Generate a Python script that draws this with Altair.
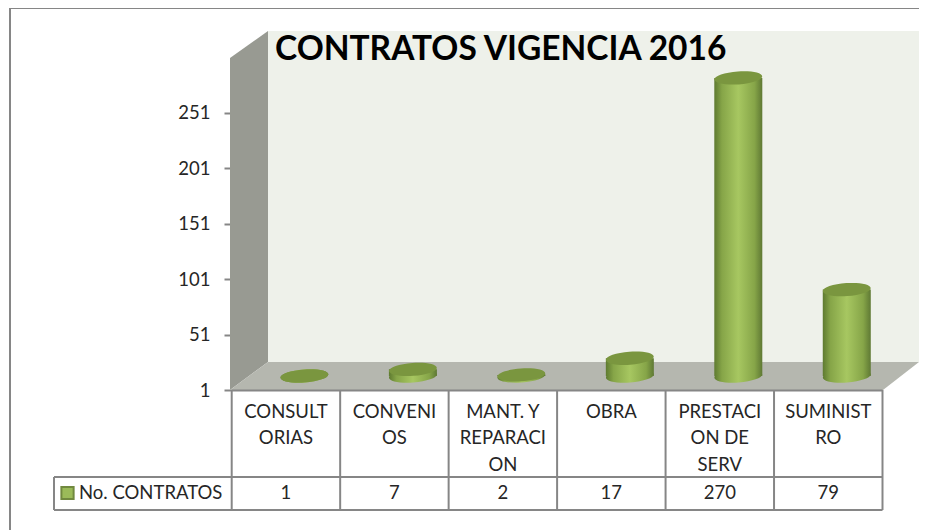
import altair as alt
import pandas as pd

categories = ["CONSULTORIAS", "CONVENIOS", "MANT. Y REPARACION", "OBRA", "PRESTACION DE SERV", "SUMINISTRO"]
wrapped = ["CONSULT\nORIAS", "CONVENI\nOS", "MANT. Y\nREPARACI\nON", "OBRA", "PRESTACI\nON DE\nSERV", "SUMINIST\nRO"]
values = [1, 7, 2, 17, 270, 79]
ticks = [1, 51, 101, 151, 201, 251]
series = "No. CONTRATOS"
title = "CONTRATOS VIGENCIA 2016"

FONT = "Lato"
INK = "#262626"
LINE = "#868686"
FS = 18.5

df = pd.DataFrame({"cat": categories, "label": wrapped, "value": values, "base": [1] * 6})
df["valtext"] = df["value"].astype(str)

AX = alt.Axis(
    values=ticks, domain=False, grid=False, title=None, offset=-223, tickSize=7,
    tickColor=LINE, tickWidth=2, labelFont=FONT, labelFontSize=FS, labelColor=INK,
    labelPadding=14,
)
xs = alt.Scale(domain=categories, range=[223.7, 874.5], paddingInner=0, paddingOuter=0)
ys = alt.Scale(domain=[1, 300], range=[382, 50.7], nice=False, zero=False)
X = alt.X("cat:N", scale=xs, axis=None, sort=None)
Y = alt.Y("value:Q", scale=ys, axis=AX)

# decorative 3-D box (not data)
side = pd.DataFrame({"px": [222, 260], "top": [50, 23], "bot": [382, 354]})
floor = pd.DataFrame({"px": [222, 260, 875, 911], "top": [382, 354, 354, 354], "bot": [382, 382, 382, 354]})


def box_area(data, color):
    return alt.Chart(data).mark_area(color=color, interpolate="linear").encode(
        x=alt.X("px:Q", scale=None, axis=None),
        y=alt.Y("top:Q", scale=None, axis=None),
        y2="bot:Q",
    )


one = pd.DataFrame({"a": [0]})


def rule(x, x2=None, y=0, y2=None, color=LINE, w=2):
    enc = {"x": alt.value(x), "y": alt.value(y)}
    if x2 is not None:
        enc["x2"] = alt.value(x2)
    if y2 is not None:
        enc["y2"] = alt.value(y2)
    return alt.Chart(one).mark_rule(color=color, strokeWidth=w).encode(**enc)


frame = rule(2, x2=911, y=0) + rule(2, y=0, y2=522)
back = alt.Chart(one).mark_rect(color="#EEF1EA").encode(
    x=alt.value(260), x2=alt.value(911), y=alt.value(23), y2=alt.value(354)
)

side_grad = alt.LinearGradient(
    gradient="linear",
    x1=0, x2=1, y1=0, y2=0,
    stops=[
        alt.GradientStop(offset=0, color="#5E7A30"),
        alt.GradientStop(offset=0.16, color="#86A548"),
        alt.GradientStop(offset=0.5, color="#A7C761"),
        alt.GradientStop(offset=0.84, color="#86A548"),
        alt.GradientStop(offset=1, color="#5F7934"),
    ],
)
ELLIPSE = "M-.9976,.0698A1,.27,-4,1,1,.9976,-.0698A1,.27,-4,1,1,-.9976,.0698Z"
DX, DY, D = 18.5, -14, 48

bars = alt.Chart(df).mark_bar(
    color=side_grad, size=D, xOffset=DX, yOffset=DY, y2Offset=DY
).encode(x=X, y=Y, y2="base:Q")
base = alt.Chart(df).mark_point(
    shape=ELLIPSE, size=D * D, filled=True, fill=side_grad, opacity=1, xOffset=DX, yOffset=DY
).encode(x=X, y=alt.Y("base:Q", scale=ys, axis=AX))
tops = alt.Chart(df).mark_point(
    shape=ELLIPSE, size=D * D, filled=True, fill="#7A963F", opacity=1, xOffset=DX, yOffset=DY
).encode(x=X, y=Y)

cat_text = alt.Chart(df).mark_text(
    font=FONT, fontSize=FS, color=INK, lineBreak="\n", lineHeight=26.5, baseline="top", align="center"
).encode(x=X, y=alt.value(394.5), text="label:N")
val_text = alt.Chart(df).mark_text(
    font=FONT, fontSize=FS, color=INK, baseline="middle", align="center"
).encode(x=X, y=alt.value(485), text="valtext:N")

col_rules = alt.Chart(df).mark_rule(color=LINE, strokeWidth=2).encode(
    x=alt.X("cat:N", scale=xs, axis=None, sort=None, bandPosition=0),
    y=alt.value(382), y2=alt.value(502),
)
table = (
    col_rules
    + rule(874.5, y=382, y2=502)
    + rule(223.7, x2=874.5, y=382.5)
    + rule(46, x2=874.5, y=469)
    + rule(46, x2=874.5, y=502)
    + rule(46, y=469, y2=502)
)

legend_key = alt.Chart(pd.DataFrame({"s": [series]})).mark_point(
    shape="square", size=150, filled=True, fill="#9BBB59", stroke="#71893F", strokeWidth=2, opacity=1
).encode(x=alt.value(59.5), y=alt.value(485))
legend_text = alt.Chart(pd.DataFrame({"s": [series]})).mark_text(
    font=FONT, fontSize=FS, color=INK, align="left", baseline="middle"
).encode(x=alt.value(71), y=alt.value(485), text="s:N")

chart = alt.layer(
    frame, back, box_area(side, "#989A92"), box_area(floor, "#B5B7AF"),
    bars, base, tops, table, cat_text, val_text, legend_key, legend_text,
).properties(
    width=911, height=522,
    autosize=alt.AutoSizeParams(type="none"),
    padding=0,
    background="white",
    title=alt.TitleParams(
        title, font=FONT, fontSize=33.5, fontWeight="bold", color="#000000",
        anchor="start", frame="group", dx=267, offset=-60.5,
    ),
).configure_view(stroke=None)

chart.save("out.html", embed_options={"renderer": "svg", "actions": False})
